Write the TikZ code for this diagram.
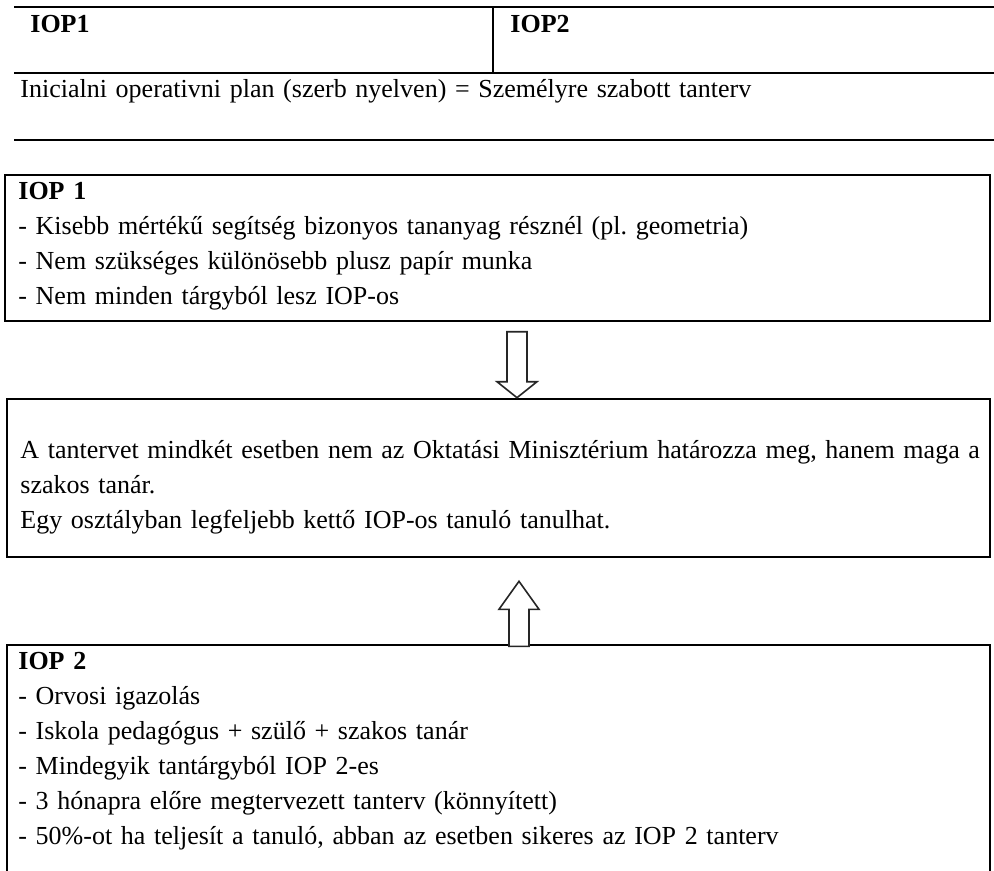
\documentclass[tikz,border=0pt]{standalone}
\usepackage{fontspec}
\setmainfont{Liberation Serif}
\usetikzlibrary{fit,calc}
\frenchspacing
\tikzset{
  frame/.style={draw=black,line width=1.3pt,inner sep=0pt},
  rule/.style={draw=black,line width=1.4pt},
  divider/.style={draw=black,line width=0.9pt},
  txt/.style={font=\fontsize{13}{#1}\selectfont,anchor=base west,inner sep=0pt,
    align=left,text width=495pt},
  txt/.default=17.5,
  head/.style={font=\fontsize{13}{16}\selectfont\bfseries,anchor=base west,inner sep=0pt},
  hollow/.style={draw=black!85,line width=0.8pt,fill=white,line join=miter},
}
\begin{document}
\begin{tikzpicture}[x=0.5pt,y=-0.5pt]
  \useasboundingbox (0,0) rectangle (994,871);
  % table at the top
  \draw[rule] (14,7) -- (994,7);
  \draw[rule] (14,73) -- (994,73);
  \draw[divider] (493,7) -- (493,73);
  \draw[rule] (14,140) -- (994,140);
  \node[head] (t1) at (30,33) {IOP1};
  \node[head] (t2) at (510,33) {IOP2};
  \node[txt] (plan) at (20,98) {Inicialni operativni plan (szerb nyelven) = Személyre szabott tanterv};
  % boxes
  \node[frame,fit={(5,175) (990,321)}] (iop1) {};
  \node[txt] (iop1txt) at (18,200) {\textbf{IOP 1}\\
    - Kisebb mértékű segítség bizonyos tananyag résznél (pl. geometria)\\
    - Nem szükséges különösebb plusz papír munka\\
    - Nem minden tárgyból lesz IOP-os};
  \node[frame,fit={(7,399) (990,557)}] (mid) {};
  \node[txt] (midtxt) at (20,458) {A tantervet mindkét esetben nem az Oktatási Minisztérium határozza meg, hanem maga a\\
    szakos tanár.\\
    Egy osztályban legfeljebb kettő IOP-os tanuló tanulhat.};
  \node[frame,fit={(7,645) (990,900)}] (iop2) {};
  \node[txt] (iop2txt) at (18,669) {\textbf{IOP 2}\\
    - Orvosi igazolás\\
    - Iskola pedagógus + szülő + szakos tanár\\
    - Mindegyik tantárgyból IOP 2-es\\
    - 3 hónapra előre megtervezett tanterv (könnyített)\\
    - 50\%-ot ha teljesít a tanuló, abban az esetben sikeres az IOP 2 tanterv};
  % hollow arrows
  \path (mid.north) ++(18.5,0) coordinate (dtip);
  \draw[hollow] (dtip) -- ++(-20,-16) -- ++(10,0) -- ++(0,-50) -- ++(20,0) -- ++(0,50) -- ++(10,0) -- cycle;
  \path (mid.south) ++(20.5,23) coordinate (utip);
  \draw[hollow] (utip) -- ++(-20,28) -- ++(10,0) -- ++(0,37) -- ++(20,0) -- ++(0,-37) -- ++(10,0) -- cycle;
\end{tikzpicture}
\end{document}
